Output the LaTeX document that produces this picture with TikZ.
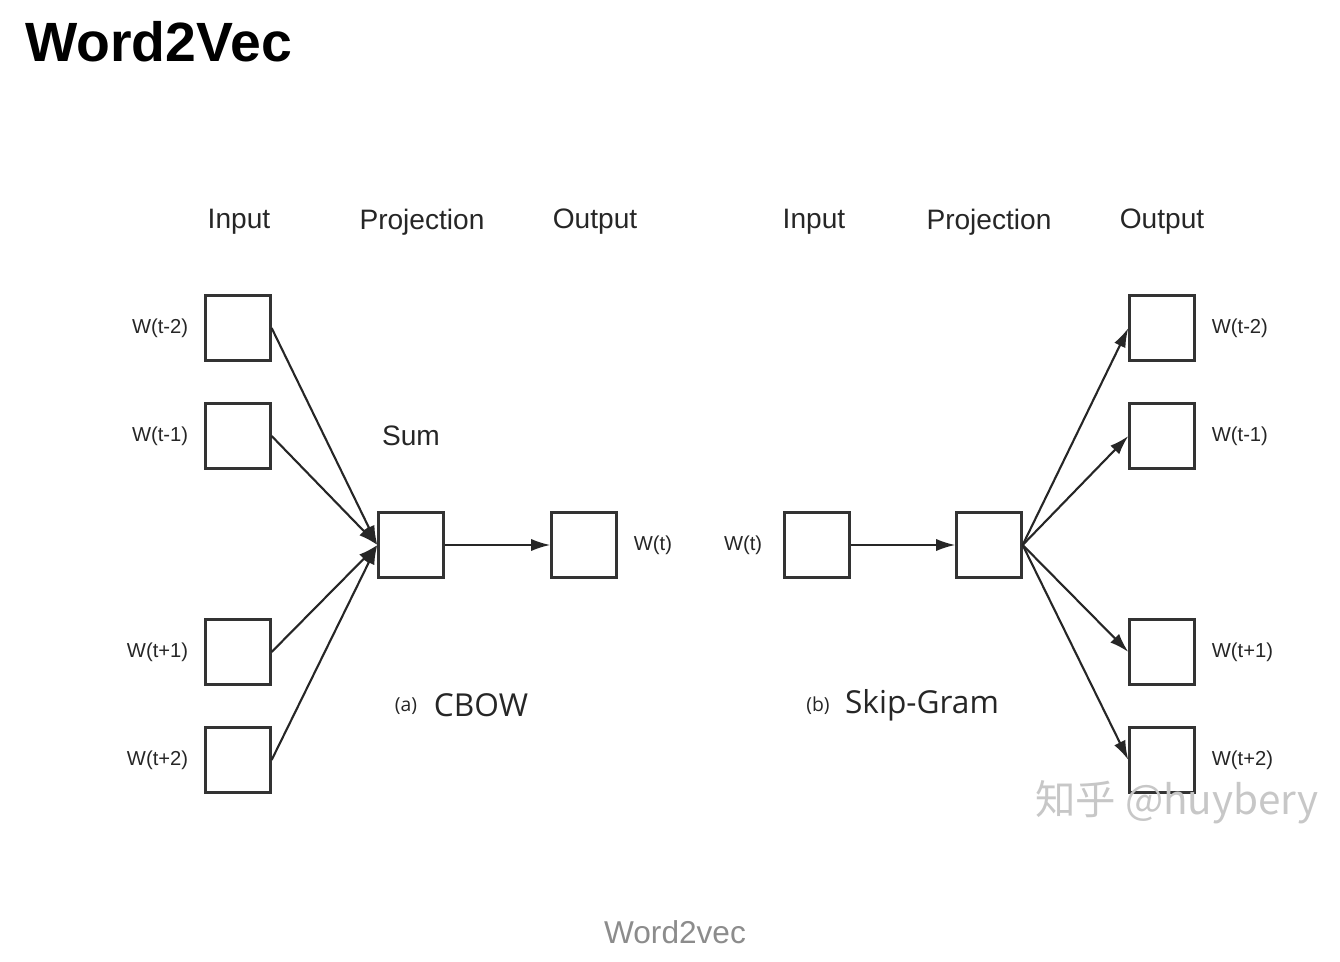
\documentclass[tikz,border=0pt]{standalone}
\usepackage{fontspec}
\setmainfont{Liberation Sans}
\newfontfamily\capfont{Open Sans}
\newfontfamily\cjkfont{Noto Sans CJK SC}
\usetikzlibrary{arrows.meta,positioning}

\begin{document}
\begin{tikzpicture}[x=0.02cm, y=-0.02cm,
    unit/.style={draw=black!80, line width=1.3pt, minimum size=1.3cm, inner sep=0pt},
    head/.style={font=\fontsize{16}{18}\selectfont, text=black!85},
    wlabel/.style={font=\fontsize{11.5}{14}\selectfont, text=black!85},
    link/.style={-{Latex[length=11pt,width=7pt]}, line width=1.2pt, black!85}]
    \useasboundingbox (0,0) rectangle (1340,962);

    % Title
    \node[font=\bfseries\fontsize{31.5}{36}\selectfont, anchor=west, inner sep=0pt] (title) at (25,42) {Word2Vec};

    % (a) CBOW
    \node[head] (cinhead) at (239,222) {Input};
    \node[head] (cprojhead) at (422,222) {Projection};
    \node[head] (couthead) at (595,222) {Output};
    \foreach \n/\y/\t in {m2/328/W(t-2), m1/436/W(t-1), p1/652/W(t+1), p2/760/W(t+2)} {
        \node[unit] (cin\n) at (238,\y) {};
        \node[wlabel, left=0.2cm of cin\n] (cinl\n) {\t};
    }
    \node[unit] (cproj) at (411,545) {};
    \node[unit] (cout) at (584,545) {};
    \node[wlabel, right=0.2cm of cout] (coutl) {W(t)};
    \node[font=\fontsize{16}{18}\selectfont, text=black!85] (sum) at (411,436) {Sum};
    \foreach \n in {m2,m1,p1,p2} {
        \draw[link] (cin\n.east) -- (cproj.west);
    }
    \draw[link] (cproj) -- (cout);
    \node[font=\capfont\fontsize{11}{13}\selectfont, text=black!85] (atag) at (406,706) {(a)};
    \node[font=\capfont\fontsize{18}{20}\selectfont, text=black!85] (cbow) at (481,705) {CBOW};

    % (b) Skip-Gram
    \node[head] (sinhead) at (814,222) {Input};
    \node[head] (sprojhead) at (989,222) {Projection};
    \node[head] (south) at (1162,222) {Output};
    \node[unit] (sin) at (817,545) {};
    \node[wlabel, left=0.3cm of sin] (sinl) {W(t)};
    \node[unit] (sproj) at (989,545) {};
    \foreach \n/\y/\t in {m2/328/W(t-2), m1/436/W(t-1), p1/652/W(t+1), p2/760/W(t+2)} {
        \node[unit] (sout\n) at (1162,\y) {};
        \node[wlabel, right=0.2cm of sout\n] (soutl\n) {\t};
        \draw[link] (sproj.east) -- (sout\n.west);
    }
    \draw[link] (sin) -- (sproj);
    \node[font=\capfont\fontsize{11}{13}\selectfont, text=black!85] (btag) at (818,706) {(b)};
    \node[font=\capfont\fontsize{18}{20}\selectfont, text=black!85] (skip) at (922,705) {Skip-Gram};

    % Watermark and caption
    \node[font=\cjkfont\fontsize{23}{27}\selectfont, text=black!22, anchor=west, inner sep=0pt] (mark) at (1035,802) {知乎 @huybery};
    \node[font=\fontsize{18}{20}\selectfont, text=black!45] (caption) at (675,932) {Word2vec};
\end{tikzpicture}
\end{document}
